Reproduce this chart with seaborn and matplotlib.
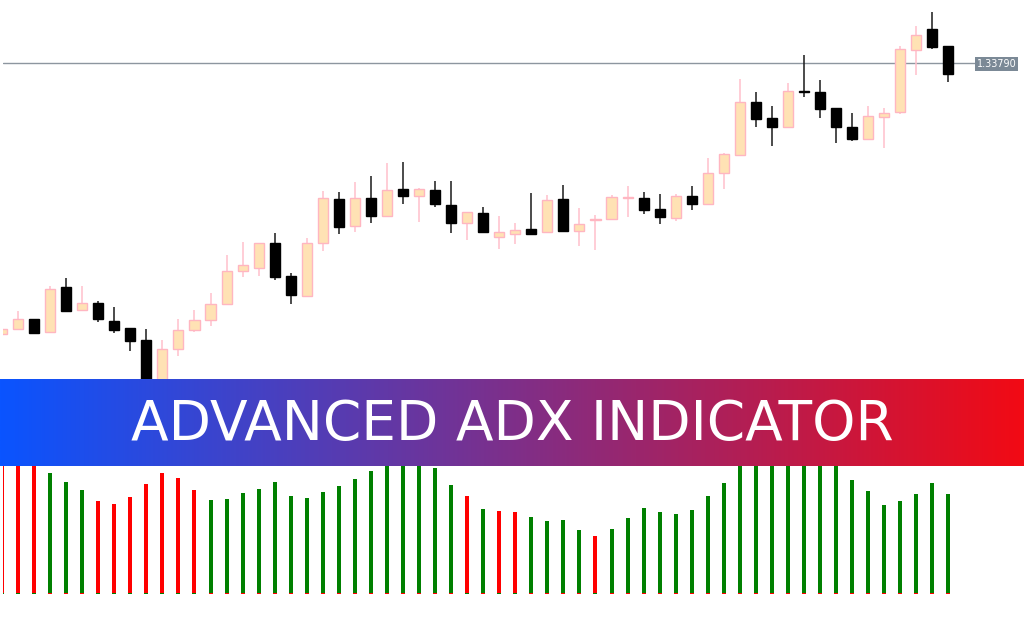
import numpy as np
import pandas as pd
import matplotlib
matplotlib.use("Agg")
import matplotlib.pyplot as plt
import seaborn as sns

# ---------------- data ----------------
bars = list(range(60))

opens = [1.32435, 1.32460, 1.32510, 1.32445, 1.32670, 1.32555, 1.32590, 1.32500, 1.32465, 1.32405,
         1.32165, 1.32360, 1.32455, 1.32505, 1.32585, 1.32750, 1.32765, 1.32890, 1.32725, 1.32625,
         1.32890, 1.33110, 1.32975, 1.33115, 1.33025, 1.33160, 1.33125, 1.33155, 1.33080, 1.32990,
         1.33040, 1.32920, 1.32935, 1.32960, 1.32945, 1.33110, 1.32950, 1.33005, 1.33010, 1.33115,
         1.33115, 1.33060, 1.33015, 1.33125, 1.33085, 1.33240, 1.33330, 1.33595, 1.33515, 1.33470,
         1.33650, 1.33645, 1.33565, 1.33470, 1.33410, 1.33520, 1.33545, 1.33855, 1.33960, 1.33875]
highs = [1.32460, 1.32550, 1.32510, 1.32675, 1.32715, 1.32675, 1.32600, 1.32570, 1.32465, 1.32460,
         1.32405, 1.32510, 1.32555, 1.32640, 1.32830, 1.32895, 1.32890, 1.32940, 1.32740, 1.32915,
         1.33150, 1.33145, 1.33195, 1.33225, 1.33290, 1.33295, 1.33165, 1.33200, 1.33200, 1.33045,
         1.33070, 1.33025, 1.32990, 1.33140, 1.33130, 1.33180, 1.33065, 1.33030, 1.33130, 1.33175,
         1.33145, 1.33135, 1.33135, 1.33175, 1.33315, 1.33340, 1.33710, 1.33645, 1.33575, 1.33690,
         1.33830, 1.33705, 1.33565, 1.33540, 1.33575, 1.33565, 1.33875, 1.33975, 1.34045, 1.33875]
lows = [1.32435, 1.32460, 1.32435, 1.32445, 1.32545, 1.32555, 1.32495, 1.32440, 1.32350, 1.32115,
        1.32145, 1.32325, 1.32445, 1.32475, 1.32585, 1.32720, 1.32725, 1.32705, 1.32585, 1.32625,
        1.32850, 1.32935, 1.32945, 1.32990, 1.33025, 1.33085, 1.32995, 1.33070, 1.32940, 1.32905,
        1.32945, 1.32860, 1.32885, 1.32930, 1.32945, 1.32945, 1.32875, 1.32855, 1.33010, 1.33020,
        1.33035, 1.32985, 1.33000, 1.33055, 1.33085, 1.33160, 1.33330, 1.33470, 1.33375, 1.33470,
        1.33620, 1.33515, 1.33390, 1.33400, 1.33405, 1.33365, 1.33535, 1.33730, 1.33860, 1.33695]
closes = [1.32460, 1.32510, 1.32440, 1.32660, 1.32550, 1.32590, 1.32510, 1.32455, 1.32400, 1.32145,
          1.32360, 1.32455, 1.32505, 1.32585, 1.32750, 1.32780, 1.32890, 1.32720, 1.32630, 1.32890,
          1.33115, 1.32970, 1.33115, 1.33025, 1.33155, 1.33125, 1.33160, 1.33085, 1.32990, 1.33045,
          1.32945, 1.32945, 1.32955, 1.32935, 1.33105, 1.32950, 1.32985, 1.33010, 1.33120, 1.33120,
          1.33055, 1.33020, 1.33125, 1.33085, 1.33240, 1.33335, 1.33595, 1.33510, 1.33470, 1.33650,
          1.33645, 1.33560, 1.33470, 1.33410, 1.33525, 1.33540, 1.33860, 1.33930, 1.33870, 1.33735]

current_price = 1.33790
price_label = "1.33790"

adx_values = [36.0, 35.0, 34.0, 30.3, 28.0, 26.0, 23.3, 22.5, 24.3, 27.5,
              30.3, 29.0, 26.0, 23.5, 23.8, 25.3, 26.3, 28.0, 24.5, 24.0,
              25.5, 27.0, 28.8, 30.8, 33.0, 34.5, 34.0, 31.5, 27.3, 24.5,
              21.3, 20.8, 20.5, 19.3, 18.3, 18.5, 16.0, 14.5, 16.3, 19.0,
              21.5, 20.5, 20.0, 21.0, 24.5, 27.8, 33.0, 35.0, 37.0, 38.0,
              38.5, 37.5, 35.0, 28.5, 25.8, 22.3, 23.3, 25.0, 27.8, 25.0]
adx_trend = ["down", "down", "down", "up", "up", "up", "down", "down", "down", "down",
             "down", "down", "down", "up", "up", "up", "up", "up", "up", "up",
             "up", "up", "up", "up", "up", "up", "up", "up", "up", "down",
             "up", "down", "down", "up", "up", "up", "up", "down", "up", "up",
             "up", "up", "up", "up", "up", "up", "up", "up", "up", "up",
             "up", "up", "up", "up", "up", "up", "up", "up", "up", "up"]

title_text = "ADVANCED ADX INDICATOR"

# ---------------- figure ----------------
sns.set_theme(style="white")
plt.rcParams["font.family"] = ["DejaVu Sans"]

W, H = 1024, 640
fig = plt.figure(figsize=(W / 100, H / 100), dpi=100)
fig.patch.set_facecolor("white")

px = 16.04          # pixels per bar
x0 = 2.0            # pixel of bar 0
left_px = 3.0
xl = ((left_px - x0) / px, (W - x0) / px)

# price panel
ax1 = fig.add_axes([left_px / W, (H - 390) / H, (W - left_px) / W, 390 / H])
p_per_px = 0.00005
p_top = current_price + 63 * p_per_px
ax1.set_ylim(p_top - 390 * p_per_px, p_top)
ax1.set_xlim(*xl)
ax1.axis("off")

o = np.array(opens); c = np.array(closes)
hi = np.array(highs); lo = np.array(lows)
bull = c >= o
wick_col = np.where(bull, "#ffc0cb", "#1a1a1a")
ax1.vlines(bars, lo, hi, colors=wick_col, linewidth=1.1, zorder=2)
body_h = np.maximum(np.abs(c - o), 0.5 * p_per_px)
ax1.bar(bars, body_h, bottom=np.minimum(o, c), width=0.63,
        color=np.where(bull, "#ffe2b4", "#000000"),
        edgecolor=np.where(bull, "#ffb6c1", "#000000"), linewidth=1.0, zorder=3)

ax1.axhline(current_price, xmin=0, xmax=(975 - left_px) / (W - left_px),
            color="#8d969f", linewidth=1.0, zorder=1)
fig.text(996.5 / W, (H - 64) / H, price_label, ha="center", va="center",
         fontsize=6.9, color="white",
         bbox=dict(boxstyle="square,pad=0.2", facecolor="#7b8996", edgecolor="none"))

# ADX histogram panel
ax2 = fig.add_axes([left_px / W, 0, (W - left_px) / W, 260 / H])
df = pd.DataFrame({"bar": bars, "adx": adx_values, "trend": adx_trend})
sns.barplot(data=df, x="bar", y="adx", hue="trend", native_scale=True, dodge=False,
            palette={"up": "#008000", "down": "#ff0000"}, width=4 / px,
            errorbar=None, legend=False, saturation=1, linewidth=0, ax=ax2)
# small opposite-colour cap at the foot of each bar
df["cap"] = 0.35
df["cap_trend"] = np.where(df["trend"] == "up", "down", "up")
sns.barplot(data=df, x="bar", y="cap", hue="cap_trend", native_scale=True, dodge=False,
            palette={"up": "#008000", "down": "#ff0000"}, width=4 / px,
            errorbar=None, legend=False, saturation=1, linewidth=0, ax=ax2)
ax2.set_xlim(*xl)
ax2.set_ylim(-(H - 594) / 4, (594 - 380) / 4)
ax2.axis("off")

# gradient banner
ax3 = fig.add_axes([0, (H - 466) / H, 1, 87 / H])
left_c = np.array([10, 84, 255]) / 255
right_c = np.array([242, 10, 20]) / 255
t = np.linspace(0, 1, 512)[None, :, None]
grad = left_c[None, None, :] * (1 - t) + right_c[None, None, :] * t
ax3.imshow(grad, aspect="auto", extent=[0, 1, 0, 1], interpolation="bilinear")
ax3.set_xlim(0, 1); ax3.set_ylim(0, 1)
ax3.axis("off")
ax3.text(512.5 / W, (466 - 440) / 87, title_text, transform=ax3.transAxes,
         ha="center", va="baseline", color="white", fontsize=39.6,
         family=["DejaVu Sans"], fontweight="medium")

fig.savefig("out.png", dpi=100, facecolor="white")
